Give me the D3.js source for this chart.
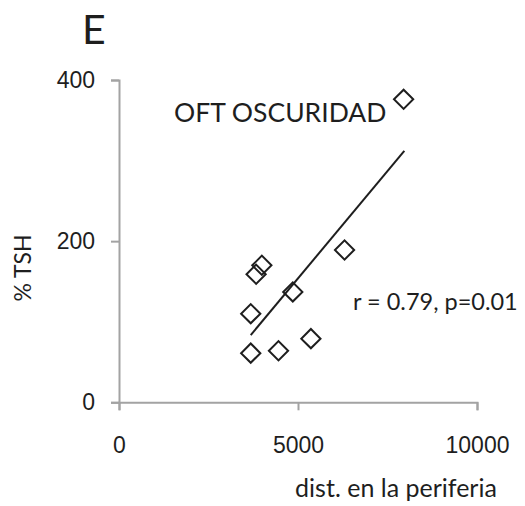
<!DOCTYPE html>
<html>
<head>
<meta charset="utf-8">
<script src="https://cdn.jsdelivr.net/npm/d3@7"></script>
<style>
  body { margin: 0; background: #fff; }
  svg { display: block; font-family: Lato, "Open Sans", sans-serif; }
</style>
</head>
<body>
<svg width="525" height="506"></svg>
<script>
'use strict';

// distancia en la periferia vs % TSH
var distX = [7950, 6300, 3990, 3830, 4855, 3680, 5360, 3680, 4455];
var tshY = [376, 189, 170, 159, 137, 110, 79, 61, 64];

// línea de tendencia (extremos)
var trendX = [3680, 7970];
var trendY = [83.5, 312];

var xTicks = [0, 5000, 10000];
var yTicks = [0, 200, 400];

var svg = d3.select('svg');

var x = d3.scaleLinear().domain([0, 10000]).range([119, 477]);
var y = d3.scaleLinear().domain([0, 400]).range([402.3, 80]);

var axisColor = '#a3a3a3';
var ink = '#1e1e1e';

var gx = svg.append('g')
  .attr('transform', 'translate(0,' + y(0) + ')')
  .call(d3.axisBottom(x).tickValues(xTicks).tickFormat(d3.format('d'))
    .tickSize(8).tickPadding(26));

var gy = svg.append('g')
  .attr('transform', 'translate(' + x(0) + ',0)')
  .call(d3.axisLeft(y).tickValues(yTicks).tickFormat(d3.format('d'))
    .tickSize(8).tickPadding(16));

[gx, gy].forEach(function (g) {
  g.select('.domain').attr('stroke', axisColor).attr('stroke-width', 2);
  g.selectAll('.tick line').attr('stroke', axisColor).attr('stroke-width', 2);
  g.selectAll('.tick text').attr('fill', ink).style('font-size', '23px');
});

// tendencia
svg.append('line')
  .attr('x1', x(trendX[0])).attr('y1', y(trendY[0]))
  .attr('x2', x(trendX[1])).attr('y2', y(trendY[1]))
  .attr('stroke', ink).attr('stroke-width', 2);

// puntos en forma de rombo
var pts = distX.map(function (d, i) { return { x: d, y: tshY[i] }; });
svg.append('g')
  .selectAll('path')
  .data(pts)
  .enter()
  .append('path')
  .attr('d', d3.symbol().type(d3.symbolSquare).size(185))
  .attr('transform', function (d) {
    return 'translate(' + x(d.x) + ',' + y(d.y) + ') rotate(45)';
  })
  .attr('fill', 'none')
  .attr('stroke', ink)
  .attr('stroke-width', 2);

svg.append('text')
  .attr('x', 82).attr('y', 44)
  .attr('fill', ink).style('font-size', '41px')
  .text('E');

svg.append('text')
  .attr('x', 174).attr('y', 122)
  .attr('fill', ink).style('font-size', '26.5px')
  .text('OFT OSCURIDAD');

svg.append('text')
  .attr('x', 353).attr('y', 310)
  .attr('fill', ink).style('font-size', '23.5px')
  .text('r = 0.79, p=0.01');

svg.append('text')
  .attr('transform', 'translate(31,268) rotate(-90)')
  .attr('text-anchor', 'middle')
  .attr('fill', ink).style('font-size', '23px')
  .text('% TSH');

svg.append('text')
  .attr('x', 396).attr('y', 497)
  .attr('text-anchor', 'middle')
  .attr('fill', ink).style('font-size', '25px')
  .text('dist. en la periferia');
</script>
</body>
</html>
